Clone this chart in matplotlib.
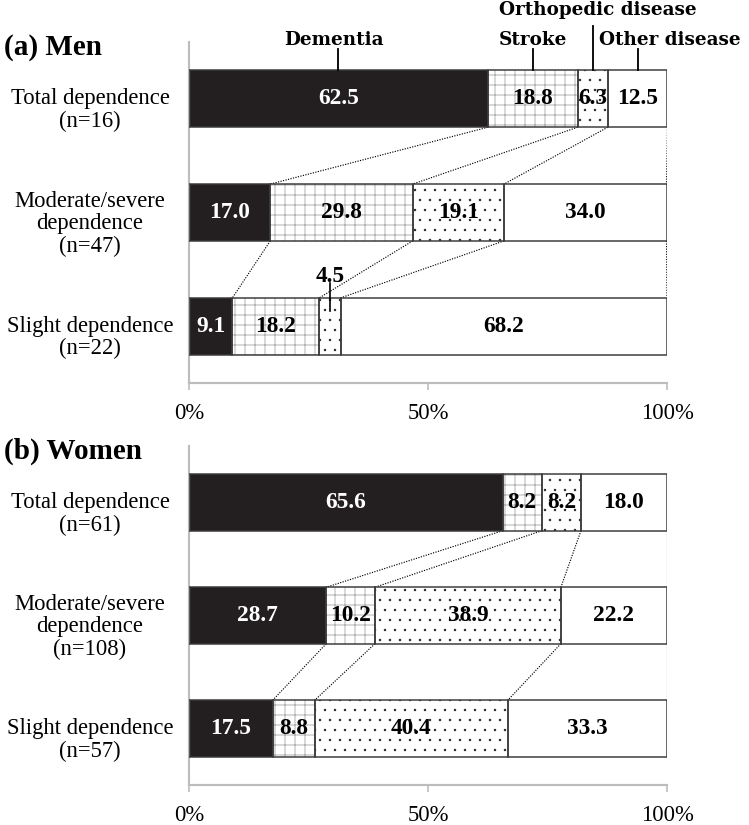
import matplotlib
matplotlib.use("Agg")
import matplotlib.pyplot as plt
import matplotlib.transforms as mtransforms

# ---------------- data ----------------
causes = ["Dementia", "Stroke", "Orthopedic disease", "Other disease"]
men_groups = ["Total dependence\n(n=16)", "Moderate/severe\ndependence\n(n=47)", "Slight dependence\n(n=22)"]
men_values = [
    [62.5, 18.8, 6.3, 12.5],
    [17.0, 29.8, 19.1, 34.0],
    [9.1, 18.2, 4.5, 68.2],
]
women_groups = ["Total dependence\n(n=61)", "Moderate/severe\ndependence\n(n=108)", "Slight dependence\n(n=57)"]
women_values = [
    [65.6, 8.2, 8.2, 18.0],
    [28.7, 10.2, 38.9, 22.2],
    [17.5, 8.8, 40.4, 33.3],
]
xticks = [0, 50, 100]
xtick_labels = ["0%", "50%", "100%"]
panel_titles = ["(a) Men", "(b) Women"]

# ---------------- style ----------------
W, H, DPI = 749, 825, 120
SERIF = ["Liberation Serif", "DejaVu Serif"]
face = ["#231F20", "white", "white", "white"]
hatch = [None, "++", "..", None]
hatch_col = ["#231F20", "#B4B4B4", "#1A1A1A", "white"]
hatch_lw = [0.6, 0.6, 0.25, 0.6]
txt_col = ["white", "black", "black", "black"]
BAR_H = 0.5
AX_GRAY = "#BDBDBD"

fig = plt.figure(figsize=(W / DPI, H / DPI), dpi=DPI)


def make_axes(top_px, bottom_px):
    left = 189 / W
    width = 478 / W
    return fig.add_axes([left, 1 - bottom_px / H, width, (bottom_px - top_px) / H])


def draw_panel(ax, groups, values, title, legend=False):
    ax.set_xlim(0, 100)
    ax.set_ylim(2.5, -0.5)
    ys = list(range(len(groups)))
    cums = []
    for y, row in zip(ys, values):
        left = 0.0
        bounds = []
        for k, v in enumerate(row):
            with plt.rc_context({"hatch.linewidth": hatch_lw[k]}):
                ax.barh(y, v, left=left, height=BAR_H, color=face[k], edgecolor=hatch_col[k],
                        hatch=hatch[k], linewidth=0, zorder=2)
            ax.barh(y, v, left=left, height=BAR_H, fill=False, edgecolor="#3A3A3A",
                    linewidth=0.9, zorder=3)
            cx = left + v / 2
            if v < 5:
                ax.text(cx, y - BAR_H / 2 - 0.19, f"{v:.1f}", ha="center", va="center",
                        fontsize=14, fontweight="bold", family=SERIF, color="black", zorder=5)
                ax.plot([cx, cx], [y - BAR_H / 2 - 0.13, y - 0.13], color="black", lw=1.0, zorder=5)
            else:
                ax.text(cx, y, f"{v:.1f}", ha="center", va="center", fontsize=14,
                        fontweight="bold", family=SERIF, color=txt_col[k], zorder=5)
            left += v
            bounds.append(left)
        cums.append([0.0] + bounds)
    # connecting dotted lines
    for i in range(len(ys) - 1):
        for k in range(1, 5):
            ax.plot([cums[i][k], cums[i + 1][k]], [ys[i] + BAR_H / 2, ys[i + 1] - BAR_H / 2],
                    color="black", lw=0.7, ls=(0, (1, 1.2)), zorder=1)
    # group labels
    trans = mtransforms.blended_transform_factory(ax.transAxes, ax.transData)
    for y, g in zip(ys, groups):
        ax.text(-0.207, y + 0.1, g, transform=trans, ha="center", va="center",
                multialignment="center", fontsize=13.6, family=SERIF, linespacing=1.1)
    # title
    ax.text(-0.388, -0.45, title, transform=trans, ha="left", va="center", fontsize=17.5,
            fontweight="bold", family=SERIF)
    # axes style
    for s in ["top", "right"]:
        ax.spines[s].set_visible(False)
    for s in ["left", "bottom"]:
        ax.spines[s].set_color(AX_GRAY)
        ax.spines[s].set_linewidth(1.3)
    ax.set_yticks([])
    ax.set_xticks(xticks)
    ax.set_xticklabels(xtick_labels, family=SERIF, fontsize=13.6)
    ax.tick_params(axis="x", direction="out", length=4, width=1, color=AX_GRAY, pad=8)
    # legend-like category labels (top of first bar)
    if legend:
        row = values[0]
        starts = [sum(row[:k]) for k in range(4)]
        centers = [s + v / 2 for s, v in zip(starts, row)]
        top = ys[0] - BAR_H / 2
        leader_top = [-0.44, -0.44, -0.64, -0.44]
        text_y = [-0.52, -0.52, -0.78, -0.52]
        text_dx = [-1.0, 0.0, 1.0, 6.8]
        for k in range(4):
            ax.plot([centers[k], centers[k]], [top, leader_top[k]], color="black", lw=1.1,
                    clip_on=False, zorder=4)
            ax.text(centers[k] + text_dx[k], text_y[k], causes[k], ha="center", va="center",
                    fontsize=11, fontweight="bold", family=["DejaVu Serif"], clip_on=False)


ax1 = make_axes(42, 383)
draw_panel(ax1, men_groups, men_values, panel_titles[0], legend=True)
ax2 = make_axes(446, 785)
draw_panel(ax2, women_groups, women_values, panel_titles[1])

fig.savefig("out.png", dpi=DPI)
